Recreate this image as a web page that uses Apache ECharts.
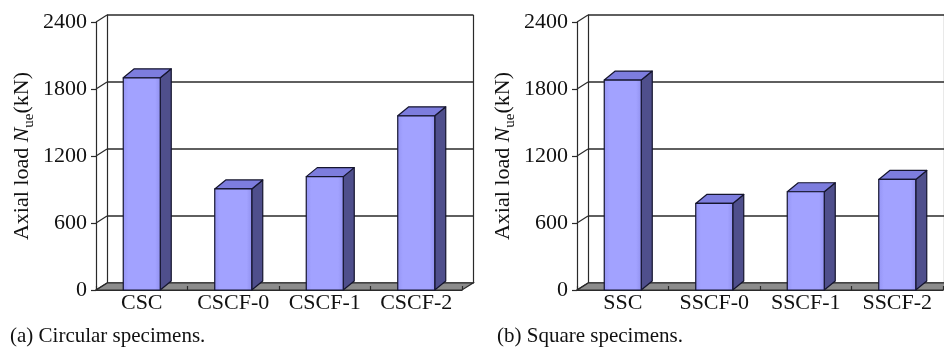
<!DOCTYPE html>
<html>
<head>
<meta charset="utf-8">
<script src="https://cdn.jsdelivr.net/npm/echarts@6/dist/echarts.min.js"></script>
<style>
  html, body { margin: 0; padding: 0; background: #fff; }
  #chart { width: 944px; height: 349px; }
</style>
</head>
<body>
<div id="chart"></div>
<script>
// Axial load capacity of circular and square specimens
const circularCategories = ['CSC', 'CSCF-0', 'CSCF-1', 'CSCF-2'];
const circularLoads = [1900, 905, 1015, 1560];
const squareCategories = ['SSC', 'SSCF-0', 'SSCF-1', 'SSCF-2'];
const squareLoads = [1880, 775, 880, 990];
const yTicks = [0, 600, 1200, 1800, 2400];

const FONT = '"Liberation Serif", "Times New Roman", serif';
const TXT = '#111111';
const LINE = '#2a2a2a';
// depth offsets of the 3-D wall and of the bars
const WALL_DX = 11, WALL_DY = -7;
const BAR_DX = 11, BAR_DY = -9, BAR_W = 37;

const chart = echarts.init(document.getElementById('chart'));

function frontX(gridIndex, cats) {
  return {
    gridIndex, type: 'category', data: cats, boundaryGap: true,
    axisLine: { show: true, lineStyle: { color: LINE, width: 1.2 } },
    axisTick: { show: true, inside: true, length: 4, lineStyle: { color: LINE, width: 1.2 } },
    axisLabel: { color: TXT, fontFamily: FONT, fontSize: 22, margin: 2, interval: 0, hideOverlap: false },
    splitLine: { show: false }, z: 5
  };
}
function backX(gridIndex, cats) {
  return { gridIndex, type: 'category', data: cats, show: false };
}
function frontY(gridIndex) {
  return {
    gridIndex, type: 'value', min: 0, max: 2400, interval: 600,
    name: '{a|Axial load }{i|N}{s|ue}{a|(kN)}',
    nameLocation: 'middle', nameRotate: 90, nameGap: 62,
    nameTextStyle: {
      rich: {
        a: { fontFamily: FONT, fontSize: 22, color: TXT, lineHeight: 24 },
        i: { fontFamily: FONT, fontSize: 22, color: TXT, fontStyle: 'italic', lineHeight: 24 },
        s: { fontFamily: FONT, fontSize: 15, color: TXT, lineHeight: 24, verticalAlign: 'bottom', padding: [0, 0, -3, 0] }
      }
    },
    axisLine: { show: true, lineStyle: { color: LINE, width: 1.2 } },
    axisTick: { show: true, length: 5, lineStyle: { color: LINE, width: 1.2 } },
    axisLabel: {
      color: TXT, fontFamily: FONT, fontSize: 22, margin: 9, padding: [4, 0, 0, 0],
      formatter: v => String(v)
    },
    splitLine: { show: false }
  };
}
function backY(gridIndex, position, withGrid) {
  return {
    gridIndex, type: 'value', min: 0, max: 2400, interval: 600, position,
    axisLine: { show: true, onZero: false, lineStyle: { color: LINE, width: 1.2 } },
    axisTick: { show: false }, axisLabel: { show: false },
    splitLine: { show: withGrid, lineStyle: { color: LINE, width: 1.5 } }
  };
}

// gray floor of the 3-D box
function floorSeries(xi, yi) {
  return {
    type: 'custom', xAxisIndex: xi, yAxisIndex: yi, data: [[0, 0]], z: 2, silent: true,
    renderItem(params, api) {
      const c = params.coordSys;
      const y0 = c.y + c.height;
      return {
        type: 'polygon',
        shape: { points: [[c.x, y0], [c.x + c.width, y0], [c.x + c.width + WALL_DX, y0 + WALL_DY], [c.x + WALL_DX, y0 + WALL_DY]] },
        style: { fill: '#8c8c8c', stroke: LINE, lineWidth: 1.2 }
      };
    }
  };
}
// slanted links between the front value axis and the back wall
function linkSeries(xi, yi) {
  return {
    type: 'custom', xAxisIndex: xi, yAxisIndex: yi, z: 3, silent: true,
    data: yTicks.map(v => [0, v]),
    encode: { x: 0, y: 1 },
    renderItem(params, api) {
      const c = params.coordSys;
      const y = api.coord([0, api.value(1)])[1];
      return {
        type: 'line',
        shape: { x1: c.x, y1: y, x2: c.x + WALL_DX, y2: y + WALL_DY },
        style: { stroke: LINE, lineWidth: 1.2 }
      };
    }
  };
}
// 3-D columns
function barSeries(xi, yi, values) {
  return {
    type: 'custom', xAxisIndex: xi, yAxisIndex: yi, z: 10,
    data: values.map((v, i) => [i, v]),
    encode: { x: 0, y: 1 },
    renderItem(params, api) {
      const top = api.coord([api.value(0), api.value(1)]);
      const base = api.coord([api.value(0), 0]);
      const x0 = top[0] - BAR_W / 2, x1 = x0 + BAR_W;
      const yt = top[1], yb = base[1];
      const edge = { stroke: '#15152e', lineWidth: 1.2, lineJoin: 'round' };
      return {
        type: 'group',
        children: [
          {
            type: 'polygon',
            shape: { points: [[x1, yt], [x1, yb], [x1 + BAR_DX, yb + BAR_DY], [x1 + BAR_DX, yt + BAR_DY]] },
            style: Object.assign({ fill: '#4f4f8c' }, edge)
          },
          {
            type: 'polygon',
            shape: { points: [[x0, yt], [x1, yt], [x1 + BAR_DX, yt + BAR_DY], [x0 + BAR_DX, yt + BAR_DY]] },
            style: Object.assign({ fill: '#7d7dde' }, edge)
          },
          {
            type: 'rect',
            shape: { x: x0, y: yt, width: BAR_W, height: yb - yt },
            style: Object.assign({
              fill: new echarts.graphic.LinearGradient(0, 0, 1, 0, [
                { offset: 0, color: '#9494f4' },
                { offset: 0.15, color: '#a2a2ff' },
                { offset: 0.85, color: '#a2a2ff' },
                { offset: 1, color: '#9090ee' }
              ])
            }, edge)
          }
        ]
      };
    }
  };
}

const option = {
  backgroundColor: '#ffffff',
  animation: false,
  grid: [
    { left: 96, top: 22, width: 366, height: 268 },
    { left: 107, top: 15, width: 366, height: 268 },
    { left: 577, top: 22, width: 366, height: 268 },
    { left: 588, top: 15, width: 366, height: 268 }
  ],
  xAxis: [
    frontX(0, circularCategories), backX(1, circularCategories),
    frontX(2, squareCategories), backX(3, squareCategories)
  ],
  yAxis: [
    frontY(0), backY(1, 'left', true), backY(1, 'right', false),
    frontY(2), backY(3, 'left', true), backY(3, 'right', false)
  ],
  series: [
    floorSeries(0, 0), linkSeries(0, 0), barSeries(0, 0, circularLoads),
    floorSeries(2, 3), linkSeries(2, 3), barSeries(2, 3, squareLoads)
  ],
  graphic: [
    { type: 'text', left: 10, top: 326, style: { text: '(a) Circular specimens.', font: '21px ' + FONT, fill: TXT } },
    { type: 'text', left: 497, top: 326, style: { text: '(b) Square specimens.', font: '21px ' + FONT, fill: TXT } }
  ]
};
chart.setOption(option);
</script>
</body>
</html>
